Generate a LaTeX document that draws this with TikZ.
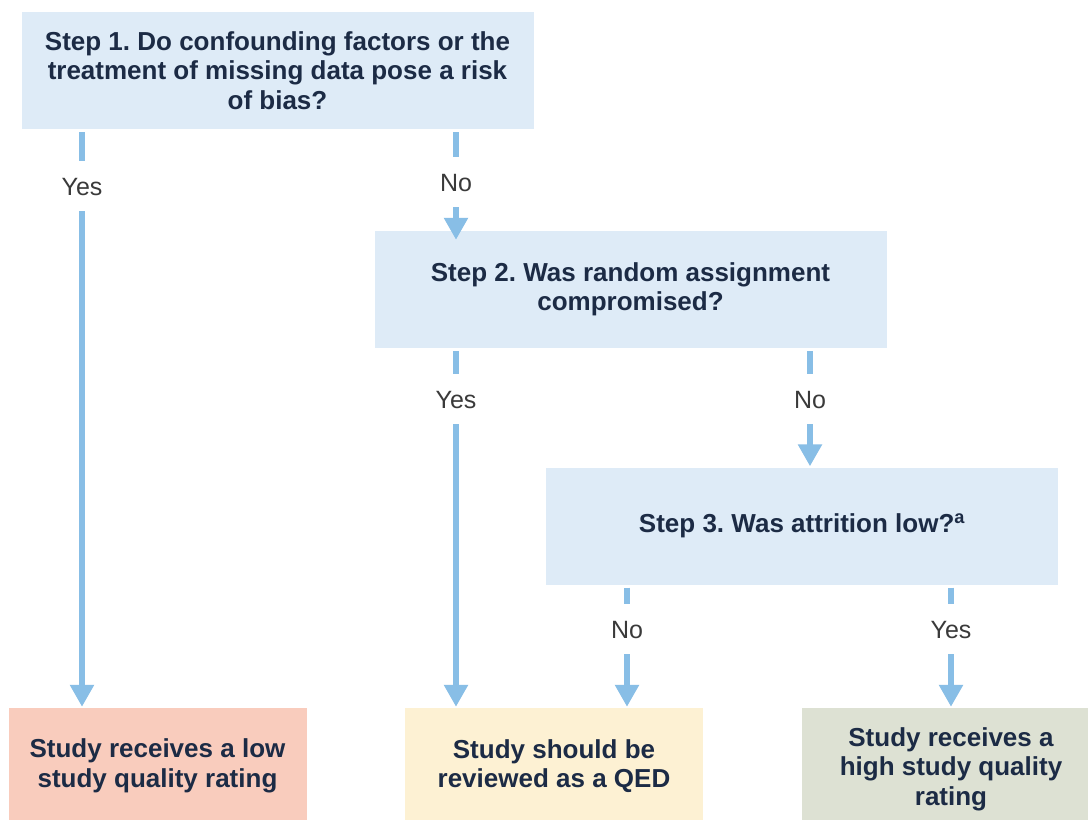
\documentclass[tikz,border=0pt]{standalone}
\usepackage{fontspec}
\setmainfont{Liberation Sans}
\usetikzlibrary{arrows.meta}
\frenchspacing
\definecolor{stepfill}{HTML}{DEEBF7}
\definecolor{lowfill}{HTML}{F9CCBD}
\definecolor{qedfill}{HTML}{FDF1D3}
\definecolor{highfill}{HTML}{DDE1D3}
\definecolor{arrowblue}{HTML}{88BEE6}
\definecolor{navy}{HTML}{1C2B45}
\definecolor{labelgray}{HTML}{3A3A3A}
\begin{document}
\begin{tikzpicture}[x=1pt,y=-1pt,
  box/.style={draw=none, inner sep=0pt, align=center, text=navy,
    font=\bfseries\fontsize{26}{29.5}\selectfont},
  stepbox/.style={box, fill=stepfill, minimum width=512pt, minimum height=117pt},
  endbox/.style={box, minimum width=298pt, minimum height=116pt},
  lbl/.style={inner sep=0pt, text height=18pt, text depth=0pt, minimum height=50pt,
    font=\fontsize{25}{30}\selectfont, text=labelgray},
  link/.style={draw=arrowblue, line width=6.5pt, line cap=butt, shorten <=3pt},
  arr/.style={-{Triangle[width=23pt,length=22pt]}, shorten >=1pt, shorten <=0pt}
]
\useasboundingbox (0,0) rectangle (1088,820);
\clip (0,0) rectangle (1088,820);
\fill[white] (0,0) rectangle (1088,820);

% step boxes
\node[stepbox] (s1) at (277.5,70.5) {Step 1. Do confounding factors or the\\treatment of missing data pose a risk\\of bias?};
\node[stepbox] (s2) at (630.5,289.5) {Step 2. Was random assignment\\compromised?};
\node[stepbox] (s3) at (802,526) {Step 3. Was attrition low?\textsuperscript{a}};

% end boxes
\node[endbox, fill=lowfill] (low) at (157.5,766) {Study receives a low\\study quality rating};
\node[endbox, fill=qedfill] (qed) at (554,766) {Study should be\\reviewed as a QED};
\node[endbox, fill=highfill, minimum height=122pt] (high) at (951,769) {Study receives a\\high study quality\\rating};

% labels
\node[lbl] (yes1) at (82,186) {Yes};
\node[lbl] (no1) at (456,182) {No};
\node[lbl] (yes2) at (456,399) {Yes};
\node[lbl] (no2) at (810,399) {No};
\node[lbl] (no3) at (627,629) {No};
\node[lbl] (yes3) at (951,629) {Yes};

% connectors
\draw[link] (s1.south -| yes1) -- (yes1.north);
\draw[link,arr] (yes1.south) -- (low.north -| yes1);
\draw[link] (s1.south -| no1) -- (no1.north);
\draw[link,arr,shorten >=-9pt] (no1.south) -- (s2.north -| no1);

\draw[link] (s2.south -| yes2) -- (yes2.north);
\draw[link,arr] (yes2.south) -- (qed.north -| yes2);
\draw[link] (s2.south -| no2) -- (no2.north);
\draw[link,arr] (no2.south) -- (s3.north -| no2);

\draw[link] (s3.south -| no3) -- (no3.north);
\draw[link,arr] (no3.south) -- (qed.north -| no3);
\draw[link] (s3.south -| yes3) -- (yes3.north);
\draw[link,arr] (yes3.south) -- (high.north -| yes3);
\end{tikzpicture}
\end{document}
